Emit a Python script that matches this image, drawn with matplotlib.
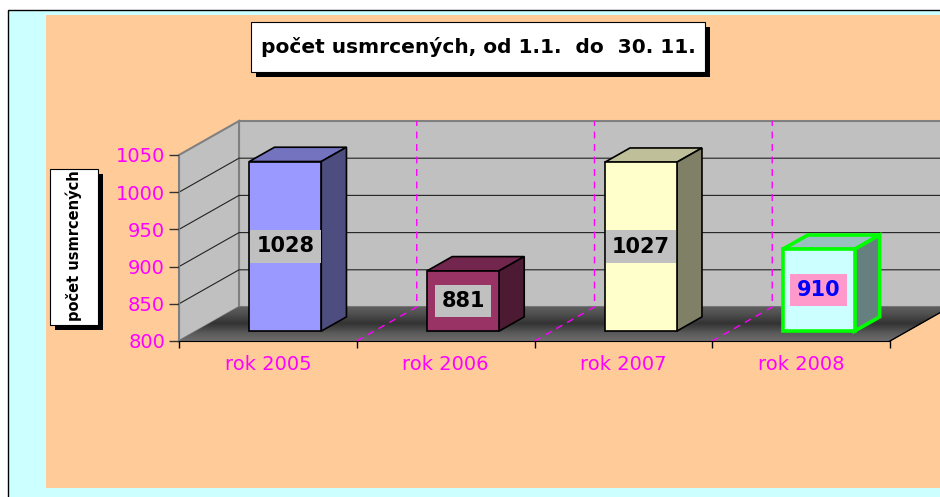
import numpy as np
import matplotlib.pyplot as plt
import matplotlib.colors as mcolors
from matplotlib.patches import Polygon, Rectangle
from matplotlib.transforms import Affine2D, IdentityTransform

years = ["rok 2005", "rok 2006", "rok 2007", "rok 2008"]
deaths = [1028, 881, 1027, 910]
front_colors = ["#9999FF", "#993366", "#FFFFCC", "#CCFFFF"]
edge_colors = ["black", "black", "black", "#00FF00"]
edge_widths = [1.2, 1.2, 1.2, 2.6]
label_bg = ["#C0C0C0", "#C0C0C0", "#C0C0C0", "#FF99CC"]
label_fg = ["black", "black", "black", "#0000FF"]
y_ticks = [800, 850, 900, 950, 1000, 1050]

W, H = 940, 497
DX, DY = 60, 34          # depth of the 3d box, in pixels
D0, D1 = 0.29, 0.71      # depth span of the bars
BAR_W = 0.405
MAGENTA = "#FF00FF"
WALL = "#C0C0C0"


def shade(color, f):
    return tuple(np.array(mcolors.to_rgb(color)) * f)


fig = plt.figure(figsize=(W / 100, H / 100), dpi=100, facecolor="white")

# background, frame and text boxes in pixel coordinates
bg = fig.add_axes([0, 0, 1, 1], zorder=0)
bg.set_xlim(0, W)
bg.set_ylim(H, 0)
bg.axis("off")
bg.add_patch(Rectangle((8, 10), W, H, facecolor="#CCFFFF", edgecolor="black", lw=1))
bg.add_patch(Rectangle((46, 15), W, 473, facecolor="#FFCC99", lw=0))
bg.add_patch(Rectangle((256, 27), 454, 50, facecolor="black", lw=0))
bg.add_patch(Rectangle((251, 22), 454, 50, facecolor="white", edgecolor="black", lw=0.8))
bg.text(478, 47, "počet usmrcených, od 1.1.  do  30. 11.", ha="center", va="center",
        fontsize=14.5, fontweight="bold")
bg.add_patch(Rectangle((55, 174), 48, 156, facecolor="black", lw=0))
bg.add_patch(Rectangle((50, 169), 48, 156, facecolor="white", edgecolor="black", lw=0.8))
bg.text(74, 246, "počet usmrcených", rotation=90, ha="center", va="center",
        fontsize=10.5, fontweight="bold")

# front plane of the 3d chart
n = len(years)
ax = fig.add_axes([179 / W, (H - 341) / H, (890 - 179) / W, (341 - 155) / H], zorder=1)
ax.set_xlim(0, n)
ax.set_ylim(y_ticks[0], y_ticks[-1])
ax.patch.set_visible(False)
base = y_ticks[0]
top = y_ticks[-1]


def proj(x, y, d):
    px, py = ax.transData.transform((x, y))
    return (px + DX * d, py + DY * d)


def face(pts, **kw):
    ax.add_patch(Polygon([proj(*p) for p in pts], closed=True,
                         transform=IdentityTransform(), clip_on=False, **kw))


def path(pts, **kw):
    xy = np.array([proj(*p) for p in pts])
    ax.plot(xy[:, 0], xy[:, 1], transform=IdentityTransform(), clip_on=False, **kw)


# walls
face([(0, base, 1), (n, base, 1), (n, top, 1), (0, top, 1)],
     facecolor=WALL, edgecolor="#808080", lw=1.5, zorder=1)
face([(0, base, 0), (0, base, 1), (0, top, 1), (0, top, 0)],
     facecolor=WALL, edgecolor="#808080", lw=1.5, zorder=1)

# floor with dark gradient
steps = 34
for k in range(steps):
    d = (k + 0.5) / steps
    g = np.interp(d, [0, 0.25, 0.53, 0.8, 1], [0.43, 0.35, 0.2, 0.31, 0.37])
    face([(0, base, k / steps), (n, base, k / steps),
          (n, base, (k + 1) / steps), (0, base, (k + 1) / steps)],
         facecolor=(g, g, g), edgecolor=(g, g, g), lw=0.4, zorder=1.1)

for v in y_ticks[1:-1]:
    path([(0, v, 0), (0, v, 1), (n, v, 1)], color="#222222", lw=0.8, zorder=1.5)
for k in range(1, n):
    path([(k, base, 0), (k, base, 1), (k, top, 1)], color=MAGENTA, lw=1,
         dashes=(5, 4), zorder=1.6)
path([(n, base, 0), (n, base, 1)], color="black", lw=1, zorder=1.6)

# bars: top and side faces, then the front faces
for i, v in enumerate(deaths):
    xl, xr = i + 0.5 - BAR_W / 2, i + 0.5 + BAR_W / 2
    face([(xl, v, D0), (xr, v, D0), (xr, v, D1), (xl, v, D1)],
         facecolor=shade(front_colors[i], 0.75), edgecolor=edge_colors[i],
         lw=edge_widths[i], joinstyle="miter", zorder=3)
    face([(xr, base, D0), (xr, v, D0), (xr, v, D1), (xr, base, D1)],
         facecolor=shade(front_colors[i], 0.5), edgecolor=edge_colors[i],
         lw=edge_widths[i], joinstyle="miter", zorder=3)

front = ax.transData + Affine2D().translate(DX * D0, DY * D0)
centers = np.arange(n) + 0.5
ax.bar(centers, np.array(deaths) - base, bottom=base, width=BAR_W,
       color=front_colors, edgecolor=edge_colors, linewidth=edge_widths,
       transform=front, clip_on=False, zorder=3.5)

for i, v in enumerate(deaths):
    ax.text(centers[i], (base + v) / 2, str(v), transform=front, ha="center",
            va="center", fontsize=15, fontweight="bold", color=label_fg[i], zorder=4,
            bbox=dict(boxstyle="square,pad=0.3", facecolor=label_bg[i], edgecolor="none"))

ax.set_xlim(0, n)
ax.set_ylim(base, top)
ax.set_yticks(y_ticks)
ax.tick_params(axis="y", direction="out", length=7, width=1, color="#333333",
               labelcolor=MAGENTA, labelsize=14, pad=3)
ax.set_xticks(range(n + 1))
ax.set_xticklabels([])
ax.tick_params(axis="x", which="major", direction="out", length=5, width=1)
ax.set_xticks(centers, years, minor=True)
ax.tick_params(axis="x", which="minor", length=0, pad=10, labelcolor=MAGENTA,
               labelsize=14)
for side in ["top", "right"]:
    ax.spines[side].set_visible(False)
ax.spines["left"].set_color("#808080")
ax.spines["bottom"].set_color("black")

fig.savefig("out.png", dpi=100)
